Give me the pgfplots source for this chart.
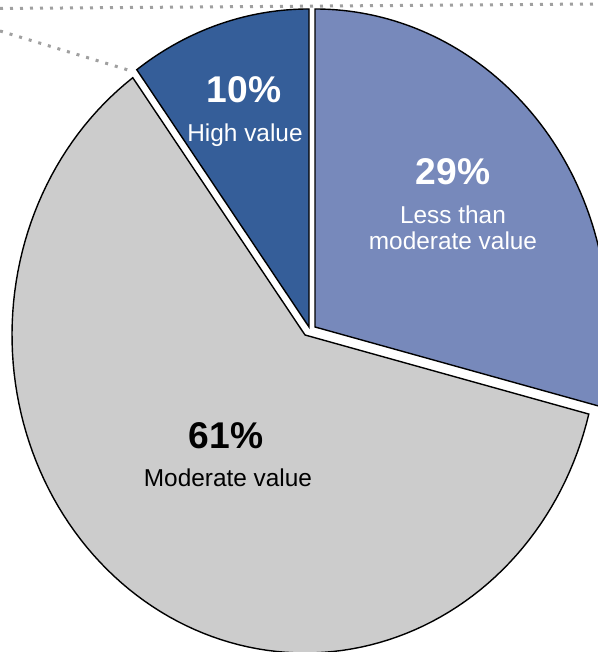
\documentclass[border=0pt]{standalone}
\usepackage{pgfplots}
\pgfplotsset{compat=1.18}
\usepackage{fontspec}
\setmainfont{Liberation Sans}
\definecolor{cHigh}{RGB}{53,94,153}
\definecolor{cLess}{RGB}{119,137,187}
\definecolor{cMod}{RGB}{204,204,204}
\definecolor{cDot}{RGB}{160,160,160}
% data (percent)
\def\vHigh{10}
\def\vLess{29}
\def\vMod{61}
\pgfmathsetmacro{\aA}{90}
\pgfmathsetmacro{\aB}{90+3.6*\vHigh}
\pgfmathsetmacro{\aC}{\aB+3.6*\vMod}
\pgfmathsetmacro{\aD}{\aC+3.6*\vLess}
\newcommand{\pct}{\fontsize{18.6}{22}\selectfont\bfseries}
\newcommand{\lab}{\fontsize{12.2}{14}\selectfont}
\begin{document}
\begin{tikzpicture}
\useasboundingbox (0,0) rectangle (299pt,326pt);
\clip (0,0) rectangle (299pt,326pt);
\begin{axis}[
  at={(0,0)}, anchor=south west,
  scale only axis, width=299pt, height=326pt,
  xmin=0, xmax=598, ymin=0, ymax=652,
  hide axis, clip=true,
]
% leader lines
\addplot[cDot, line width=1.5pt, dash pattern=on 1.5pt off 3.5pt] coordinates {(0,643.5) (598,648)};
\addplot[cDot, line width=1.5pt, dash pattern=on 1.5pt off 3.5pt] coordinates {(0,621) (128,582)};
% slices
\addplot[fill=cMod, draw=black, line width=0.7pt, domain=\aB:\aC, samples=120, variable=\t]
  ({305+293*cos(\t)}, {317+318*sin(\t)}) -- (axis cs:305,317) -- cycle;
\addplot[fill=cHigh, draw=black, line width=0.7pt, domain=\aA:\aB, samples=40, variable=\t]
  ({309+293*cos(\t)}, {325+318*sin(\t)}) -- (axis cs:309,325) -- cycle;
\addplot[fill=cLess, draw=black, line width=0.7pt, domain=\aC:\aD, samples=80, variable=\t]
  ({315+293*cos(\t)}, {325+318*sin(\t)}) -- (axis cs:315,325) -- cycle;
% labels
\node[anchor=base, text=white, inner sep=0] at (axis cs:244,549) {\pct 10\%};
\node[anchor=base, text=white, inner sep=0] at (axis cs:245,510) {\lab High value};
\node[anchor=base, text=white, inner sep=0] at (axis cs:453,467) {\pct 29\%};
\node[anchor=base, text=white, inner sep=0] at (axis cs:453,428) {\lab Less than};
\node[anchor=base, text=white, inner sep=0] at (axis cs:453,402) {\lab moderate value};
\node[anchor=base, text=black, inner sep=0] at (axis cs:226,203) {\pct 61\%};
\node[anchor=base, text=black, inner sep=0] at (axis cs:228,165) {\lab Moderate value};
\end{axis}
\end{tikzpicture}
\end{document}
